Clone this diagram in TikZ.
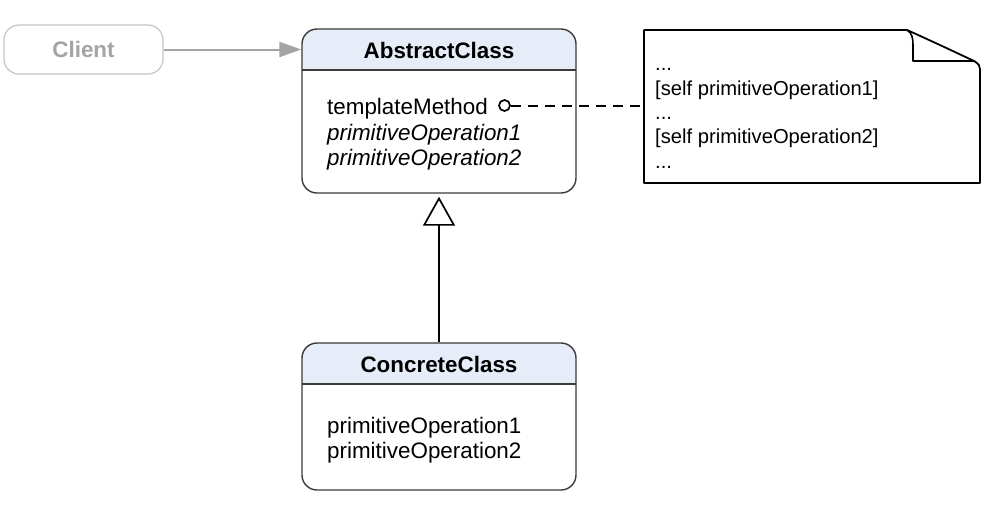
\documentclass[tikz,border=0pt]{standalone}
\usepackage{fontspec}
\setmainfont{Liberation Sans}
\usetikzlibrary{arrows.meta}
\definecolor{headblue}{HTML}{E6EDF8}
\definecolor{boxline}{HTML}{3A3A3A}
\definecolor{clientgray}{HTML}{A4A4A4}
\definecolor{clientline}{HTML}{C4C4C4}
\begin{document}
\begin{tikzpicture}[x=1pt,y=-1pt,
  classbox/.style={draw=boxline,line width=1.4pt,rounded corners=15pt,minimum width=274pt,inner sep=0pt},
  txt/.style={anchor=base west,inner sep=0pt,font=\fontsize{22.4}{26}\selectfont},
  hdr/.style={anchor=base,inner sep=0pt,font=\fontsize{22.4}{26}\selectfont\bfseries},
  notetxt/.style={anchor=base west,inner sep=0pt,font=\fontsize{20.2}{24}\selectfont}]
\useasboundingbox (0,0) rectangle (988,504);
% header fills
\begin{scope}
\clip[rounded corners=15pt] (302,29) rectangle (576,193);
\fill[headblue] (302,29) rectangle (576,70);
\end{scope}
\begin{scope}
\clip[rounded corners=15pt] (302,343) rectangle (576,490);
\fill[headblue] (302,343) rectangle (576,384);
\end{scope}
\draw[boxline,line width=1.2pt] (302,70) -- (576,70);
\draw[boxline,line width=1.2pt] (302,384) -- (576,384);
% class boxes
\node[classbox,minimum height=164pt] (abs) at (439,111) {};
\node[classbox,minimum height=147pt] (con) at (439,416.5) {};
% client
\node[draw=clientline,line width=1.2pt,rounded corners=15pt,minimum width=159pt,minimum height=49pt,inner sep=0pt] (client) at (83.5,49.5) {};
\node[hdr,text=clientgray] (clienttxt) at (83.5,57) {Client};
% texts
\node[hdr] (abshdr) at (439,58) {AbstractClass};
\node[txt] (tm) at (327,114) {templateMethod};
\node[txt] (po1) at (327,140) {\itshape primitiveOperation1};
\node[txt] (po2) at (327,165) {\itshape primitiveOperation2};
\node[hdr] (conhdr) at (439,372) {ConcreteClass};
\node[txt] (cpo1) at (327,433) {primitiveOperation1};
\node[txt] (cpo2) at (327,458) {primitiveOperation2};
% note
\draw[black,line width=1.8pt,line join=round]
  (644,30) -- (907,30) .. controls (925,38) and (955,52) .. (974,61)
  .. controls (979,64) and (980,66) .. (980,69) -- (980,183) -- (644,183) -- cycle;
\draw[black,line width=1.6pt,line join=round]
  (907,30) .. controls (912,33) and (913,38) .. (913,45) -- (913,61) -- (975,61);
\node[inner sep=0pt,minimum width=336pt,minimum height=153pt] (note) at (812,106.5) {};
\node[notetxt] (n1) at (655,70) {...};
\node[notetxt] (n2) at (655,95) {[self primitiveOperation1]};
\node[notetxt] (n3) at (655,119) {...};
\node[notetxt] (n4) at (655,143) {[self primitiveOperation2]};
\node[notetxt] (n5) at (655,168) {...};
% connectors
\draw[clientgray,line width=2pt,-{Triangle[length=22pt,width=15pt]}] (client.east) -- (abs.west |- client.east);
\node[draw=black,circle,line width=1.7pt,minimum size=11pt,inner sep=0pt] (circ) at (504.5,105.5) {};
\draw[black,line width=2pt,dash pattern=on 10pt off 7pt] (circ.east) -- (note.west |- circ.east);
\draw[black,line width=1.9pt,-{Triangle[open,length=29pt,width=32pt,line width=1.7pt]}] (con.north) -- ([yshift=-3pt]abs.south);
\end{tikzpicture}
\end{document}
